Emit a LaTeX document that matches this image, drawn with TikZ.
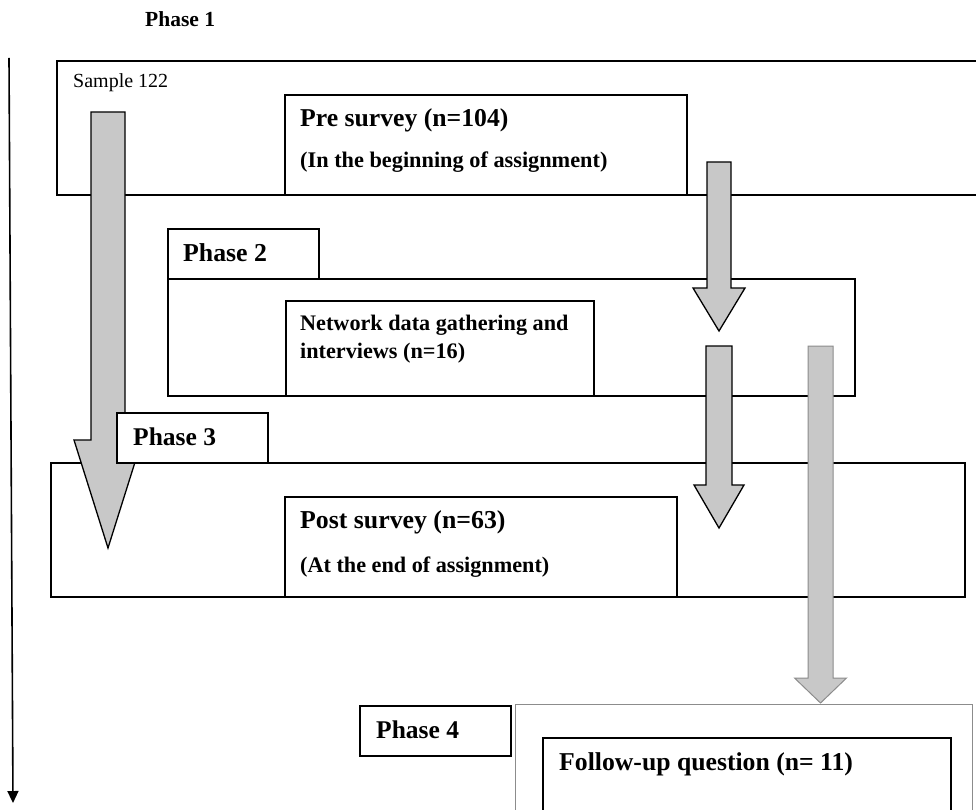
\documentclass[tikz,border=0pt]{standalone}
\usepackage{fontspec}
\setmainfont{Liberation Serif}
\usetikzlibrary{arrows.meta}

\definecolor{arrowgray}{RGB}{200,200,200}
\definecolor{softedge}{RGB}{140,140,140}

% Down-pointing block arrow:
% #1 centre x, #2 top y, #3 half shaft width, #4 head base y,
% #5 half head width, #6 tip y, #7 style
\newcommand\blockdown[7]{%
  \draw[#7] ({#1-#3},#2) -- ({#1+#3},#2) -- ({#1+#3},#4) -- ({#1+#5},#4)
    -- (#1,#6) -- ({#1-#5},#4) -- ({#1-#3},#4) -- cycle;}

\newcommand\fs[1]{\fontsize{#1}{#1}\selectfont}

\begin{document}
\begin{tikzpicture}[x=1pt,y=-1pt,
  frame/.style={draw=black, line width=1.4pt, fill=white},
  softframe/.style={draw=softedge, line width=1pt, fill=white},
  blockarrow/.style={draw=black, line width=1.3pt, fill=arrowgray, line join=miter},
  softarrow/.style={draw=softedge, line width=1pt, fill=arrowgray, line join=miter},
  lbl/.style={anchor=base west, inner sep=0pt, font=\bfseries}]

\useasboundingbox (0,0) rectangle (976,810);
\clip (0,0) rectangle (976,810);

% Phase 1
\draw[frame] (57,61) rectangle (1010,195);
\draw[frame] (285,95) rectangle (687,195);

% Phase 2
\draw[frame] (168,229) rectangle (319,279);
\draw[frame] (168,279) rectangle (855,396);
\draw[frame] (286,301) rectangle (594,396);

% Phase 3
\draw[frame] (51,463) rectangle (965,597);
\draw[frame] (285,497) rectangle (677,597);

% Phase 4
\draw[frame] (360,706) rectangle (511,756);
\draw[softframe] (515,704) rectangle (972,840);
\draw[frame] (543,738) rectangle (951,840);

% Block arrows
\blockdown{108}{112}{17}{440}{34}{548}{blockarrow}
\blockdown{719}{162}{12}{288}{26}{331}{blockarrow}
\blockdown{719}{346}{13}{485}{25}{528}{blockarrow}
\blockdown{820.5}{346}{12.5}{678}{26}{703}{softarrow}

% Phase 3 tab sits on top of the long arrow
\draw[frame] (117,413) rectangle (268,463);

% Time line
\coordinate (tstart) at (9,58);
\coordinate (tend) at (13,803);
\draw[line width=1.6pt, -{Triangle[width=11pt,length=12pt]}] (tstart) -- (tend);

% Labels
\node[lbl, font=\bfseries\fs{21.5}] (p1) at (145,27) {Phase 1};
\node[anchor=base west, inner sep=0pt, font=\fs{20}] (sample) at (73,88) {Sample 122};
\node[lbl, font=\bfseries\fs{25.7}] (pre) at (300,127) {Pre survey (n=104)};
\node[lbl, font=\bfseries\fs{22.3}] (preb) at (300,168) {(In the beginning of assignment)};

\node[lbl, font=\bfseries\fs{25.8}] (p2) at (183,261) {Phase 2};
\node[lbl, font=\bfseries\fs{22.2}] (net1) at (300,330) {Network data gathering and};
\node[lbl, font=\bfseries\fs{22.2}] (net2) at (300,358) {interviews (n=16)};

\node[lbl, font=\bfseries\fs{25.5}] (p3) at (133,445) {Phase 3};
\node[lbl, font=\bfseries\fs{25.8}] (post) at (300,528) {Post survey (n=63)};
\node[lbl, font=\bfseries\fs{22.2}] (postb) at (300,572) {(At the end of assignment)};

\node[lbl, font=\bfseries\fs{25.5}] (p4) at (376,738) {Phase 4};
\node[lbl, font=\bfseries\fs{25.7}] (fu) at (559,770) {Follow-up question (n= 11)};
\end{tikzpicture}
\end{document}
